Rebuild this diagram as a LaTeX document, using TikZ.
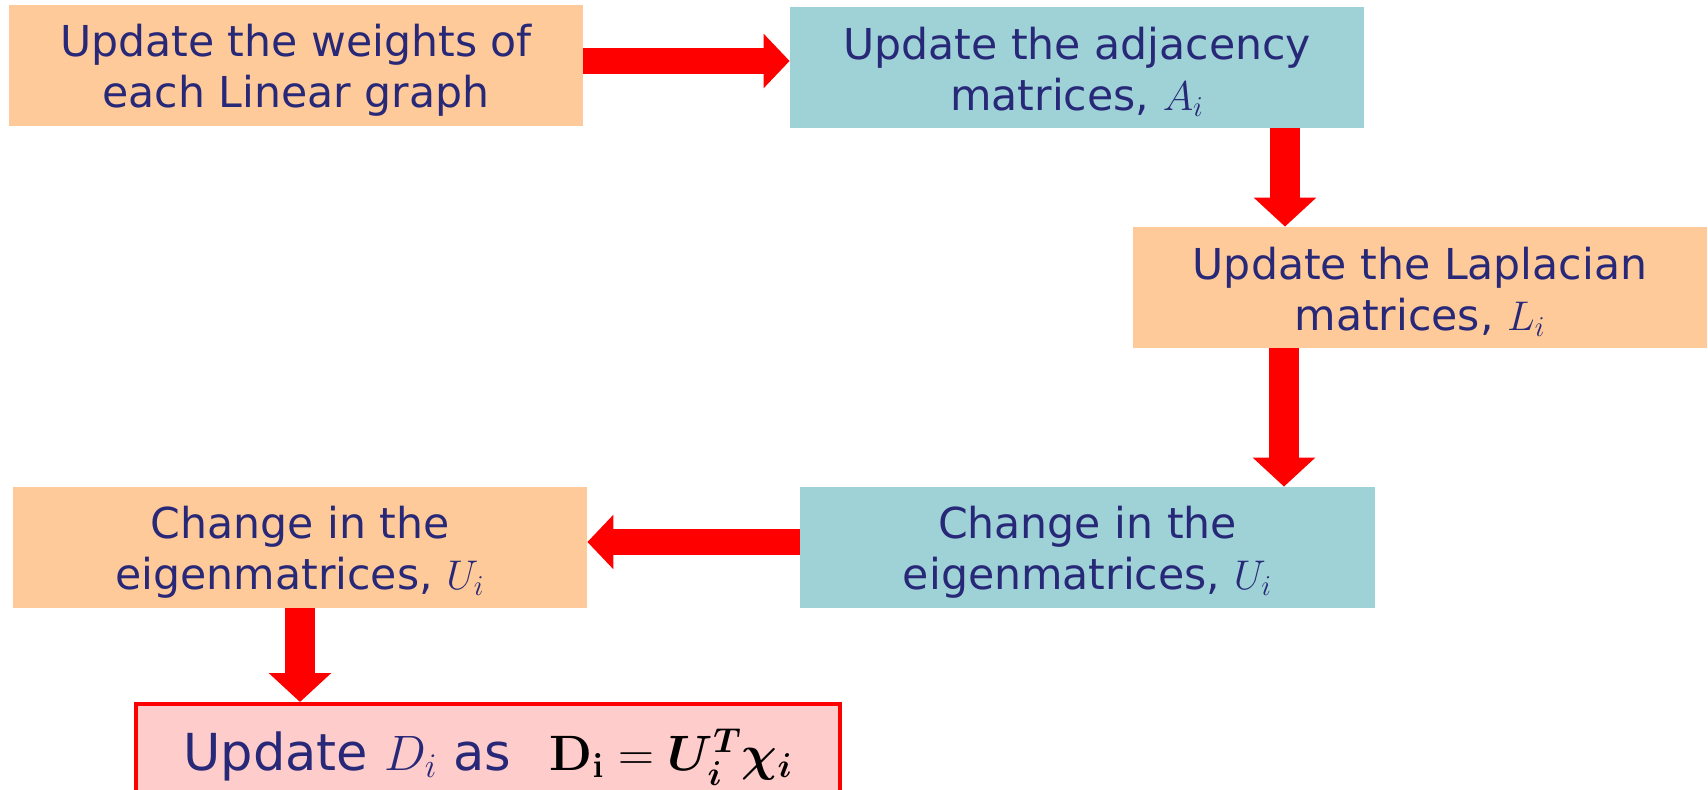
\documentclass[tikz,border=0pt]{standalone}
\usepackage{amsmath}
\usepackage[no-math]{fontspec}
\setmainfont{DejaVu Sans}
\usetikzlibrary{arrows.meta}
\definecolor{navy}{RGB}{40,40,120}
\definecolor{boxorange}{RGB}{255,202,153}
\definecolor{boxteal}{RGB}{158,210,214}
\definecolor{boxpink}{RGB}{255,204,204}
\definecolor{arrred}{RGB}{255,0,0}
\tikzset{
  flowbox/.style={rectangle, inner sep=0pt, minimum width=287pt, minimum height=60.5pt,
    align=center, text=navy, font=\fontsize{21.3pt}{25.5pt}\selectfont},
  orangebox/.style={flowbox, fill=boxorange},
  tealbox/.style={flowbox, fill=boxteal},
  finalbox/.style={rectangle, inner sep=0pt, minimum width=352pt, minimum height=53pt,
    fill=boxpink, draw=arrred, line width=2pt, text=navy,
    font=\fontsize{25.5pt}{30pt}\selectfont},
  harrow/.style={draw=arrred, line width=13pt, -{Triangle[length=13pt,width=26.5pt,fill=arrred]}},
  varrow/.style={draw=arrred, line width=15pt, -{Triangle[length=14.5pt,width=30.5pt,fill=arrred]}},
}
\newcommand{\lup}{\rule{0pt}{20.5pt}}
\begin{document}
\begin{tikzpicture}[x=0.5pt,y=-0.5pt]
\clip (0,0) rectangle (1708,790);
\fill[white] (0,0) rectangle (1708,790);
\node[orangebox] (b1) at (296,65.5) {\lup Update the weights of\\each Linear graph};
\node[tealbox] (b2) at (1077,67.5) {\lup Update the adjacency\\matrices, $A_i$};
\node[orangebox] (b3) at (1420,287.5) {\lup Update the Laplacian\\matrices, $L_i$};
\node[tealbox, minimum width=287.5pt] (b4) at (1087.5,547.5) {\lup Change in the\\eigenmatrices, $U_i$};
\node[orangebox] (b5) at (300,547.5) {\lup Change in the\\eigenmatrices, $U_i$};
\node[finalbox] (b6) at (488,757) {Update $D_i$ as\hspace{0.75em}\textcolor{black}{$\mathbf{D}_{\mathbf{i}} = \boldsymbol{U_i^T\chi_i}$}};
\coordinate (r1) at (0,61);
\coordinate (c2) at (1285,0);
\coordinate (c3) at (1284,0);
\coordinate (r4) at (0,542);
\coordinate (c5) at (300,0);
\draw[harrow] (b1.east |- r1) -- (b2.west |- r1);
\draw[varrow] (b2.south -| c2) -- (b3.north -| c2);
\draw[varrow] (b3.south -| c3) -- (b4.north -| c3);
\draw[harrow] (b4.west |- r4) -- (b5.east |- r4);
\draw[varrow] (b5.south -| c5) -- (b6.north -| c5);
\end{tikzpicture}
\end{document}
